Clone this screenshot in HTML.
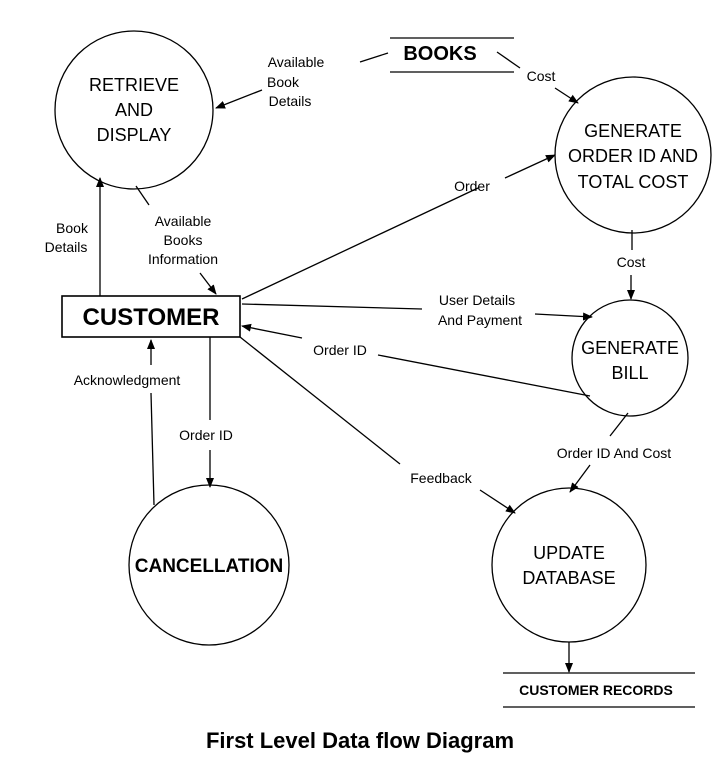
<!DOCTYPE html>
<html><head><meta charset="utf-8"><style>
body{margin:0;background:#fff}
svg{display:block}
text{font-family:"Liberation Sans",sans-serif;fill:#000}
.l{font-size:14px}
.c{font-size:18px}
</style></head><body>
<svg width="720" height="780" viewBox="0 0 720 780" xmlns="http://www.w3.org/2000/svg">
<defs><marker id="a" markerWidth="10" markerHeight="10" refX="9" refY="5" orient="auto" markerUnits="userSpaceOnUse"><path d="M0,1 L10,5 L0,9 z" fill="#000"/></marker></defs>
<g fill="none" stroke="#000" stroke-width="1.3">
<circle cx="134" cy="110" r="79"/>
<circle cx="633" cy="155" r="78"/>
<circle cx="630" cy="358" r="58"/>
<circle cx="209" cy="565" r="80"/>
<circle cx="569" cy="565" r="77"/>
<rect x="62" y="296" width="178" height="41" stroke-width="1.6"/>
<line x1="390" y1="38" x2="514" y2="38"/><line x1="390" y1="72" x2="514" y2="72"/>
<line x1="503" y1="673" x2="695" y2="673"/><line x1="503" y1="707" x2="695" y2="707"/>
<line x1="360" y1="62" x2="388" y2="53"/>
<line x1="262" y1="90" x2="216" y2="108" marker-end="url(#a)"/>
<line x1="497" y1="52" x2="520" y2="68"/>
<line x1="555" y1="88" x2="578" y2="103" marker-end="url(#a)"/>
<line x1="136" y1="186" x2="149" y2="205"/>
<line x1="200" y1="273" x2="216" y2="294" marker-end="url(#a)"/>
<line x1="100" y1="296" x2="100" y2="178" marker-end="url(#a)"/>
<line x1="242" y1="299" x2="478" y2="188"/>
<line x1="505" y1="178" x2="555" y2="155" marker-end="url(#a)"/>
<line x1="242" y1="304" x2="422" y2="309"/>
<line x1="535" y1="314" x2="592" y2="317" marker-end="url(#a)"/>
<line x1="590" y1="396" x2="378" y2="355"/>
<line x1="302" y1="338" x2="242" y2="326" marker-end="url(#a)"/>
<line x1="210" y1="337" x2="210" y2="420"/>
<line x1="210" y1="450" x2="210" y2="487" marker-end="url(#a)"/>
<line x1="154" y1="505" x2="151" y2="393"/>
<line x1="151" y1="365" x2="151" y2="340" marker-end="url(#a)"/>
<line x1="240" y1="337" x2="400" y2="464"/>
<line x1="480" y1="490" x2="515" y2="513" marker-end="url(#a)"/>
<line x1="632" y1="230" x2="632" y2="250"/>
<line x1="631" y1="275" x2="631" y2="299" marker-end="url(#a)"/>
<line x1="628" y1="413" x2="610" y2="436"/>
<line x1="590" y1="465" x2="570" y2="492" marker-end="url(#a)"/>
<line x1="569" y1="642" x2="569" y2="672" marker-end="url(#a)"/>
</g>
<g text-anchor="middle">
<text class="c" x="134" y="91">RETRIEVE</text>
<text class="c" x="134" y="116">AND</text>
<text class="c" x="134" y="141">DISPLAY</text>
<text class="c" x="633" y="137">GENERATE</text>
<text class="c" x="633" y="162">ORDER ID AND</text>
<text class="c" x="633" y="188">TOTAL COST</text>
<text class="c" x="630" y="354">GENERATE</text>
<text class="c" x="630" y="379">BILL</text>
<text class="c" x="569" y="559">UPDATE</text>
<text class="c" x="569" y="584">DATABASE</text>
<text x="209" y="572" font-size="19" font-weight="bold">CANCELLATION</text>
<text x="151" y="325" font-size="24" font-weight="bold">CUSTOMER</text>
<text x="440" y="60" font-size="20" font-weight="bold">BOOKS</text>
<text x="596" y="695" font-size="14" font-weight="bold">CUSTOMER RECORDS</text>
<text x="360" y="748" font-size="22" font-weight="bold">First Level Data flow Diagram</text>
<text class="l" x="296" y="67">Available</text>
<text class="l" x="283" y="87">Book</text>
<text class="l" x="290" y="106">Details</text>
<text class="l" x="541" y="81">Cost</text>
<text class="l" x="183" y="226">Available</text>
<text class="l" x="183" y="245">Books</text>
<text class="l" x="183" y="264">Information</text>
<text class="l" x="72" y="233">Book</text>
<text class="l" x="66" y="252">Details</text>
<text class="l" x="472" y="191">Order</text>
<text class="l" x="477" y="305">User Details</text>
<text class="l" x="480" y="325">And Payment</text>
<text class="l" x="340" y="355">Order ID</text>
<text class="l" x="127" y="385">Acknowledgment</text>
<text class="l" x="206" y="440">Order ID</text>
<text class="l" x="441" y="483">Feedback</text>
<text class="l" x="631" y="267">Cost</text>
<text class="l" x="614" y="458">Order ID And Cost</text>
</g>
</svg>
</body></html>
